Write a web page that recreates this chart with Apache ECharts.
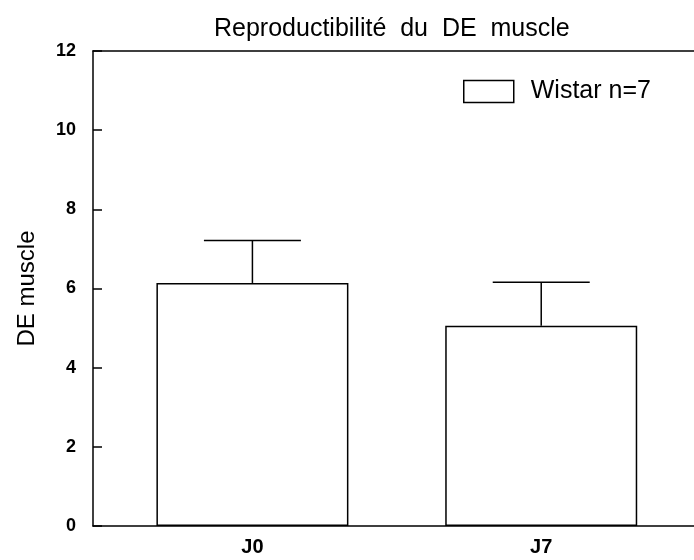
<!DOCTYPE html>
<html>
<head>
<meta charset="utf-8">
<script src="https://cdn.jsdelivr.net/npm/echarts@6/dist/echarts.min.js"></script>
<style>
  html, body { margin: 0; padding: 0; background: #fff; }
  #chart { width: 694px; height: 560px; }
</style>
</head>
<body>
<div id="chart"></div>
<script>
// Groups, mean values and upward standard deviations
const categories = ['J0', 'J7'];
const meanValues = [6.14, 5.06];
const sdValues = [1.07, 1.10];
const yTicks = [0, 2, 4, 6, 8, 10, 12];
const seriesName = 'Wistar n=7';

const FONT = '"Liberation Sans", Arial, sans-serif';

const barData = categories.map((c, i) => [i, meanValues[i]]);
const errData = categories.map((c, i) => [i, meanValues[i], meanValues[i] + sdValues[i]]);

const X_MIN = -0.552;
const X_MAX = 1.529;
const lineStyle = { color: '#000', width: 1.5 };

const chart = echarts.init(document.getElementById('chart'), null, { renderer: 'canvas' });

chart.setOption({
  animation: false,
  backgroundColor: '#ffffff',
  title: {
    text: 'Reproductibilité  du  DE  muscle',
    left: 209,
    top: 12,
    textStyle: { fontFamily: FONT, fontSize: 25, fontWeight: 'normal', color: '#000' }
  },
  legend: {
    data: [seriesName],
    left: 463,
    top: 79,
    padding: 0,
    icon: 'rect',
    itemWidth: 50,
    itemHeight: 22,
    itemStyle: { color: '#fff', borderColor: '#000', borderWidth: 1.5 },
    textStyle: { fontFamily: FONT, fontSize: 25, color: '#000', padding: [0, 0, 0, 12] }
  },
  grid: { left: 93, right: 0, top: 51, bottom: 34 },
  xAxis: [
    {
      type: 'value',
      min: X_MIN,
      max: X_MAX,
      splitLine: { show: false },
      axisLine: { show: true, onZero: false, lineStyle },
      axisTick: { show: false },
      axisLabel: {
        customValues: categories.map((c, i) => i),
        formatter: v => categories[Math.round(v)] || '',
        fontFamily: FONT, fontSize: 20, fontWeight: 'bold', color: '#000', margin: 11
      }
    },
    {
      // top frame line of the plot box
      type: 'value',
      position: 'top',
      min: X_MIN,
      max: X_MAX,
      splitLine: { show: false },
      axisLine: { show: true, onZero: false, lineStyle },
      axisTick: { show: false },
      axisLabel: { show: false }
    }
  ],
  yAxis: {
    type: 'value',
    min: yTicks[0],
    max: yTicks[yTicks.length - 1],
    interval: 2,
    name: 'DE muscle',
    nameLocation: 'middle',
    nameGap: 54,
    nameTextStyle: { fontFamily: FONT, fontSize: 24, color: '#000' },
    splitLine: { show: false },
    axisLine: { show: true, onZero: false, lineStyle },
    axisTick: { show: true, inside: true, length: 9, lineStyle },
    axisLabel: { fontFamily: FONT, fontSize: 18, fontWeight: 'bold', color: '#000', margin: 17 }
  },
  series: [
    {
      name: seriesName,
      type: 'bar',
      barWidth: 192,
      data: barData,
      itemStyle: { color: '#fff', borderColor: '#000', borderWidth: 1.5 },
      z: 2
    },
    {
      // upward error bars with a horizontal cap
      type: 'custom',
      data: errData,
      z: 3,
      silent: true,
      renderItem: (params, api) => {
        const x = api.value(0);
        const base = api.coord([x, api.value(1)]);
        const top = api.coord([x, api.value(2)]);
        const half = 48.5;
        const style = { stroke: '#000', lineWidth: 1.5, fill: null };
        return {
          type: 'group',
          children: [
            { type: 'line', shape: { x1: base[0], y1: base[1], x2: top[0], y2: top[1] }, style },
            { type: 'line', shape: { x1: top[0] - half, y1: top[1], x2: top[0] + half, y2: top[1] }, style }
          ]
        };
      }
    }
  ]
});
</script>
</body>
</html>
